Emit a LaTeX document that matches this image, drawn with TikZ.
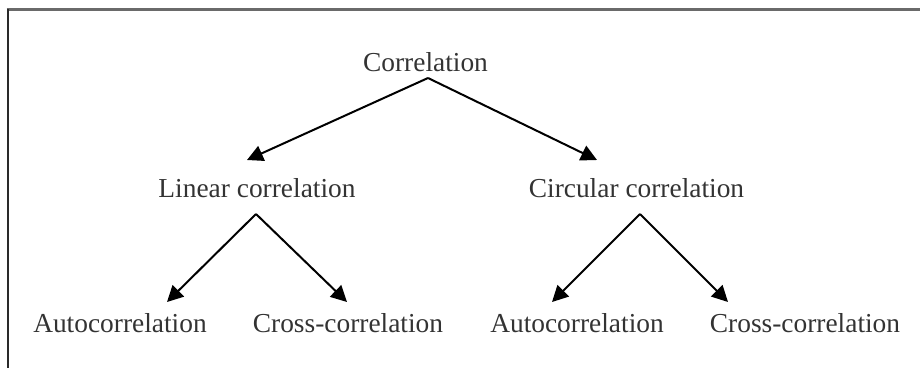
\documentclass[tikz,border=0pt]{standalone}
\usepackage{fontspec}
\setmainfont{Liberation Serif}
\usetikzlibrary{arrows.meta,calc}
\definecolor{txt}{HTML}{333333}
\definecolor{topedge}{HTML}{6A6A6A}
\definecolor{leftedge}{HTML}{2A2A2A}
\begin{document}
\begin{tikzpicture}[x=1pt,y=-1pt,
  label/.style={anchor=base,inner sep=0pt,text=txt,font=\fontsize{27.4}{32}\selectfont},
  arr/.style={draw=black,line width=2pt,-{Triangle[length=16pt,width=16pt]}}]
  \useasboundingbox (0,0) rectangle (920,368);
  % frame edges
  \draw[topedge,line width=2.5pt] (6.5,9.5) -- (920,9.5);
  \draw[leftedge,line width=2pt] (7.5,9) -- (7.5,368);
  % labels
  \node[label] (root) at (425.5,71.7) {Correlation};
  \node[label] (lin)  at (257,197) {Linear correlation};
  \node[label] (circ) at (636.5,197) {Circular correlation};
  \node[label] (a1)   at (120,332) {Autocorrelation};
  \node[label] (c1)   at (348,332) {Cross-correlation};
  \node[label] (a2)   at (577,332) {Autocorrelation};
  \node[label] (c2)   at (805,332) {Cross-correlation};
  % branching points below each parent
  \coordinate (rootfork) at ($(root.base)+(2.5,6.3)$);
  \coordinate (linfork)  at ($(lin.base)+(-1,17)$);
  \coordinate (circfork) at ($(circ.base)+(3.5,17)$);
  % connectors
  \draw[arr] (rootfork) -- ($(lin.base)+(-10,-37)$);
  \draw[arr] (rootfork) -- ($(circ.base)+(-39.5,-37)$);
  \draw[arr] (linfork) -- ($(a1.base)+(47,-30)$);
  \draw[arr] (linfork) -- ($(c1.base)+(-1,-30)$);
  \draw[arr] (circfork) -- ($(a2.base)+(-25,-30)$);
  \draw[arr] (circfork) -- ($(c2.base)+(-77,-30)$);
\end{tikzpicture}
\end{document}
